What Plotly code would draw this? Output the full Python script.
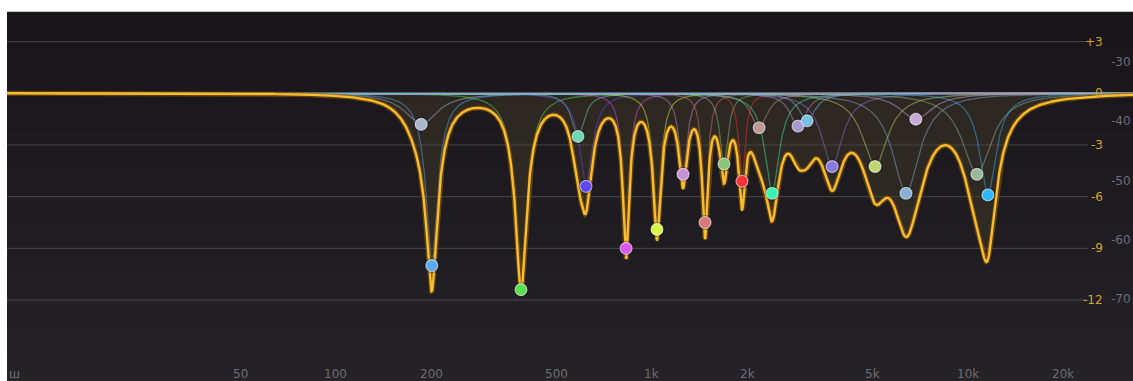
import numpy as np
import plotly.graph_objects as go

# ---- EQ band data ----
band_freq = [186, 201, 385, 583, 618, 828, 1037, 1254, 1472, 1690, 1927, 2183,
             2400, 2897, 3097, 3715, 5080, 6365, 6840, 10670, 11560]
band_gain = [-1.8, -10.0, -11.4, -2.5, -5.4, -9.0, -7.9, -4.7, -7.5, -4.1, -5.1, -2.0,
             -5.8, -1.9, -1.6, -4.25, -4.25, -5.8, -1.5, -4.7, -5.9]
band_q = [3.5, 10, 10, 9, 9, 18, 15, 14, 20, 14, 18, 7,
          8, 7, 7, 5.5, 4.5, 4.2, 3.5, 3.9, 7]
band_color = ["#a8b8cc", "#5aaaf0", "#58e050", "#70d8b0", "#6048f0", "#d858f0",
              "#d8f848", "#c890d8", "#d87878", "#88c878", "#f83038", "#c09898",
              "#38f0b0", "#a898d0", "#78c0e8", "#8878e0", "#c0d870", "#88b0d8",
              "#c8a8d8", "#98b898", "#30b8ff"]

freq_ticks = [50, 100, 200, 500, 1000, 2000, 5000, 10000, 20000]
freq_tick_text = ["50", "100", "200", "500", "1k", "2k", "5k", "10k", "20k"]
grid_freqs = [10, 20, 30, 40, 50, 60, 70, 80, 90, 100, 200, 300, 400, 500, 600, 700,
              800, 900, 1000, 2000, 3000, 4000, 5000, 6000, 7000, 8000, 9000, 10000, 20000]
gain_ticks = [3, 0, -3, -6, -9, -12]
gain_tick_text = ["+3", "0", "-3", "-6", "-9", "-12"]
gain_grid = [3, -3, -6, -9, -12]
ana_ticks = [-30, -40, -50, -60, -70]

X_RANGE = [0.9589, 4.5222]
Y_RANGE = [-16.70, 4.72]
Y2_RANGE = [-83.84, -21.56]


def peak_db(f, f0, g, q):
    A = 10 ** (g / 40.0)
    w = f / f0
    re = 1 - w ** 2
    num = re ** 2 + (w * A / q) ** 2
    den = re ** 2 + (w / (A * q)) ** 2
    return 10 * np.log10(num / den)


f = np.logspace(X_RANGE[0], X_RANGE[1], 5000)
bands = [peak_db(f, fr, g, q) for fr, g, q in zip(band_freq, band_gain, band_q)]
total = np.sum(bands, axis=0)

fig = go.Figure()

# background gradient
n = 40
top = np.array([25, 21, 27])
bot = np.array([37, 35, 39])
for i in range(n):
    t = i / (n - 1)
    c = top + (bot - top) * t
    fig.add_shape(type="rect", xref="paper", yref="paper", x0=0, x1=1,
                  y0=1 - (i + 1) / n, y1=1 - i / n + 0.001, layer="below",
                  line_width=0, fillcolor="rgb(%d,%d,%d)" % tuple(c))

# grid
for gf in grid_freqs:
    fig.add_shape(type="line", xref="x", yref="paper", x0=np.log10(gf), x1=np.log10(gf),
                  y0=0, y1=1, layer="between", line=dict(color="rgba(90,86,96,0.45)", width=1))
for gg in gain_grid:
    fig.add_shape(type="line", xref="paper", yref="y", x0=0.0, x1=0.96, y0=gg, y1=gg,
                  layer="between", line=dict(color="rgba(110,106,116,0.55)", width=1))

# filled area between 0 dB and the summed curve
fig.add_trace(go.Scatter(x=f, y=total, mode="lines", line=dict(width=0),
                         fill="tozeroy", fillcolor="rgba(71,62,40,0.42)",
                         hoverinfo="skip", showlegend=False))

# 0 dB reference line
fig.add_trace(go.Scatter(x=f, y=np.zeros_like(f), mode="lines",
                         line=dict(color="rgba(200,194,204,0.8)", width=1.5),
                         hoverinfo="skip", showlegend=False))

# individual band curves
for b, col in zip(bands, band_color):
    fig.add_trace(go.Scatter(x=f, y=b, mode="lines", line=dict(color=col, width=1.3),
                             opacity=0.45, hoverinfo="skip", showlegend=False))

# summed curve with glow
fig.add_trace(go.Scatter(x=f, y=total, mode="lines",
                         line=dict(color="rgba(140,90,10,0.6)", width=5),
                         hoverinfo="skip", showlegend=False))
fig.add_trace(go.Scatter(x=f, y=total, mode="lines",
                         line=dict(color="#f8bc2c", width=2.4),
                         hoverinfo="skip", showlegend=False))

# nodes
fig.add_trace(go.Scatter(x=band_freq, y=band_gain, mode="markers",
                         marker=dict(size=15, color="rgba(0,0,0,0.35)"),
                         hoverinfo="skip", showlegend=False))
fig.add_trace(go.Scatter(x=band_freq, y=band_gain, mode="markers",
                         marker=dict(size=12, color=band_color,
                                     line=dict(color="rgba(255,255,255,0.55)", width=1.2)),
                         showlegend=False))

# labels
font_axis = dict(family="DejaVu Sans", size=12, color="#6e6b72")
for tv, tt in zip(freq_ticks, freq_tick_text):
    fig.add_annotation(x=np.log10(tv), y=0.0, xref="x", yref="paper", text=tt,
                       showarrow=False, xanchor="center", yanchor="bottom", yshift=-2,
                       font=font_axis)
fig.add_annotation(x=0.0, y=0.0, xref="paper", yref="paper", text="ш", showarrow=False,
                   xanchor="left", yanchor="bottom", yshift=-2, font=font_axis)
for tv, tt in zip(gain_ticks, gain_tick_text):
    fig.add_annotation(x=0.9752, y=tv, xref="paper", yref="y", text=tt, showarrow=False,
                       xanchor="right", yanchor="middle",
                       font=dict(family="DejaVu Sans", size=12, color="#d9a22c"))
for tv in ana_ticks:
    fig.add_annotation(x=1.0, y=tv, xref="paper", yref="y2", text=str(tv), showarrow=False,
                       xanchor="right", yanchor="middle",
                       font=dict(family="DejaVu Sans", size=12, color="#6e6b72"))

fig.update_layout(
    width=1133, height=381,
    margin=dict(l=7, r=0, t=12, b=0),
    paper_bgcolor="white", plot_bgcolor="#1d1a1f",
    xaxis=dict(type="log", range=X_RANGE, showgrid=False, zeroline=False,
               showticklabels=False, ticks="", fixedrange=True),
    yaxis=dict(range=Y_RANGE, showgrid=False, zeroline=False, showticklabels=False,
               ticks="", fixedrange=True),
    yaxis2=dict(range=Y2_RANGE, overlaying="y", side="right", showgrid=False,
                zeroline=False, showticklabels=False, ticks="", fixedrange=True),
    showlegend=False,
)

fig.write_html("out.html", config={"displayModeBar": False},
               post_script="document.body.style.margin='0';document.body.style.overflow='hidden';")
